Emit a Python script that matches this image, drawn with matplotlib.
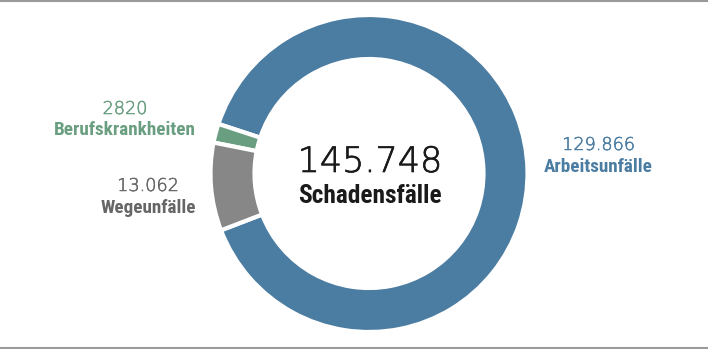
import matplotlib
matplotlib.use("Agg")
import matplotlib.pyplot as plt
import matplotlib.patheffects as pe
from matplotlib import font_manager

categories = ["Arbeitsunfälle", "Berufskrankheiten", "Wegeunfälle"]
values = [129866, 2820, 13062]
value_labels = ["129.866", "2820", "13.062"]
total_label = "145.748"
total_caption = "Schadensfälle"
colors = ["#4b7ca1", "#6a9e80", "#878787"]
text_colors = ["#4b7ca1", "#6a9e80", "#666666"]


def pick_light_family():
    fonts = font_manager.fontManager.ttflist
    for fam in ("DejaVu Sans", "Lato", "Roboto", "Open Sans"):
        if any(f.name == fam and isinstance(f.weight, int) and 200 <= f.weight <= 300
               and f.style == "normal" for f in fonts):
            return fam
    return "DejaVu Sans"


light_family = pick_light_family()
num_font = dict(family=[light_family, "DejaVu Sans"], fontweight=200 if light_family == "DejaVu Sans" else 300)
lab_font = dict(family=["Roboto Condensed", "Archivo Narrow", "Barlow Condensed", "DejaVu Sans"],
                fontweight="bold")


def thicken(color, lw):
    # a thin outline in the text colour gives the light digits a little more body
    return [pe.Stroke(linewidth=lw, foreground=color), pe.Normal()]


W, H = 708, 349
fig = plt.figure(figsize=(W / 100, H / 100), dpi=100)
ax = fig.add_axes([0, 0, 1, 1])

cx, cy, r = 369, 175.5, 158.5
ax.pie(values, colors=colors, startangle=201, center=(cx, cy), radius=r,
       wedgeprops=dict(width=44, edgecolor="white", linewidth=3))
ax.set_xlim(0, W)
ax.set_ylim(0, H)
ax.set_aspect("equal")
ax.axis("off")

# horizontal rules at top and bottom
ax.plot([0, W], [H - 0.8, H - 0.8], color="#9a9a9a", lw=1.5, solid_capstyle="butt")
ax.plot([0, W], [1.0, 1.0], color="#9a9a9a", lw=1.5, solid_capstyle="butt")

# label anchors: (x, baseline of number, baseline of caption), in pixels from top
label_pos = [(598.5, 150, 172.5), (125, 114, 135), (148, 191, 213)]
for i, (x, yn, yc) in enumerate(label_pos):
    ax.text(x, H - yn, value_labels[i], ha="center", va="baseline", fontsize=12.7,
            color=text_colors[i], path_effects=thicken(text_colors[i], 0.35), **num_font)
    ax.text(x, H - yc, categories[i], ha="center", va="baseline", fontsize=13.8,
            color=text_colors[i], **lab_font)

ax.text(370, H - 172, total_label, ha="center", va="baseline", fontsize=25.2,
        color="#1a1a1a", path_effects=thicken("#1a1a1a", 0.5), **num_font)
ax.text(370, H - 203, total_caption, ha="center", va="baseline", fontsize=18.3,
        color="#1a1a1a", **lab_font)

fig.savefig("out.png", dpi=100)
